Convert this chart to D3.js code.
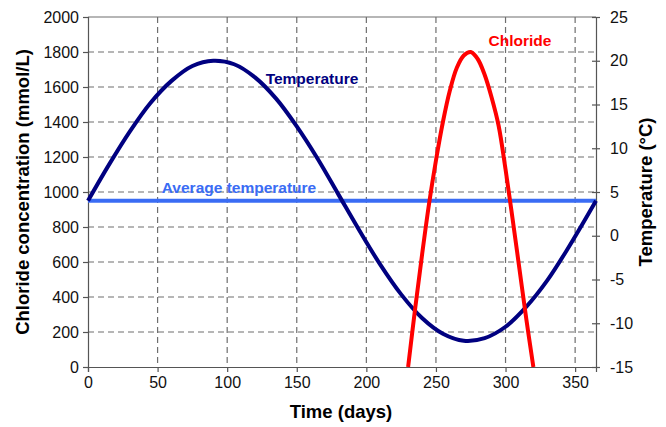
<!DOCTYPE html>
<html>
<head>
<meta charset="utf-8">
<script src="https://cdn.jsdelivr.net/npm/d3@7"></script>
<style>
  body { margin: 0; background: #fff; }
  svg { display: block; font-family: "Liberation Sans", Arial, sans-serif; }
</style>
</head>
<body>
<svg id="chart" width="666" height="427"></svg>
<script>
// data
const tempDays = [0, 15, 30, 45, 60, 75, 90, 105, 120, 135, 150, 165, 180, 195, 210, 225, 240, 255, 270, 285, 300, 315, 330, 345, 365];
const tempValues = [4, 8.1, 11.9, 15.2, 17.7, 19.4, 20, 19.6, 18.1, 15.7, 12.5, 8.8, 4.7, 0.6, -3.3, -6.7, -9.4, -11.2, -12, -11.7, -10.4, -8.1, -5.1, -1.4, 4];
const chlorideDays = [230, 235, 240, 245, 250, 255, 260, 265, 270, 275, 280, 285, 290, 295, 300, 305, 310, 315, 320];
const chlorideValues = [0, 330, 640, 930, 1180, 1400, 1580, 1710, 1780, 1800, 1760, 1670, 1540, 1380, 1130, 850, 560, 270, 0];
const averageTemp = 4;
const xTicks = [0, 50, 100, 150, 200, 250, 300, 350];
const leftTicks = [0, 200, 400, 600, 800, 1000, 1200, 1400, 1600, 1800, 2000];
const rightTicks = [-15, -10, -5, 0, 5, 10, 15, 20, 25];

const svg = d3.select('#chart');
const plotLeft = 88, plotRight = 596, plotTop = 17, plotBottom = 367;

const x = d3.scaleLinear().domain([0, 365]).range([plotLeft, plotRight]);
const yL = d3.scaleLinear().domain([0, 2000]).range([plotBottom, plotTop]);
const yR = d3.scaleLinear().domain([-15, 25]).range([plotBottom, plotTop]);

const plain = d => String(d);  // no thousands separators, plain hyphen minus

// grid
const grid = svg.append('g').attr('stroke', '#6e6e6e').attr('stroke-width', 1.2).attr('stroke-dasharray', '6,4');
grid.selectAll('.h').data(leftTicks.slice(1, -1)).enter().append('line')
  .attr('x1', plotLeft).attr('x2', plotRight)
  .attr('y1', d => yL(d)).attr('y2', d => yL(d));
grid.selectAll('.v').data(xTicks.slice(1)).enter().append('line')
  .attr('y1', plotTop).attr('y2', plotBottom)
  .attr('x1', d => x(d)).attr('x2', d => x(d));

// top border
svg.append('line').attr('x1', plotLeft).attr('x2', plotRight).attr('y1', plotTop).attr('y2', plotTop)
  .attr('stroke', '#6e6e6e').attr('stroke-width', 1.2);

// axes
const styleAxis = g => {
  g.selectAll('.domain').attr('stroke', '#555').attr('stroke-width', 1.2);
  g.selectAll('.tick line').attr('stroke', '#555').attr('stroke-width', 1.2);
  g.selectAll('.tick text').attr('fill', '#111').style('font-size', '16px');
};

svg.append('g').attr('transform', `translate(0,${plotBottom})`)
  .call(d3.axisBottom(x).tickValues(xTicks).tickFormat(plain).tickSizeOuter(0).tickSize(5).tickPadding(5))
  .call(styleAxis);

svg.append('g').attr('transform', `translate(${plotLeft},0)`)
  .call(d3.axisLeft(yL).tickValues(leftTicks).tickFormat(plain).tickSizeOuter(0).tickSize(5).tickPadding(4))
  .call(styleAxis);

const rAxis = svg.append('g').attr('transform', `translate(${plotRight},0)`)
  .call(d3.axisRight(yR).tickValues(rightTicks).tickFormat(plain).tickSizeOuter(0).tickSize(4).tickPadding(10))
  .call(styleAxis);
rAxis.selectAll('.tick line').attr('x1', -4);

// lines
const tempLine = d3.line()
  .x((d, i) => x(tempDays[i]))
  .y(d => yR(d))
  .curve(d3.curveCatmullRom);

const chlorideLine = d3.line()
  .x((d, i) => x(chlorideDays[i]))
  .y(d => yL(d))
  .curve(d3.curveCatmullRom);

svg.append('line')
  .attr('x1', x(0)).attr('x2', x(365))
  .attr('y1', yR(averageTemp)).attr('y2', yR(averageTemp))
  .attr('stroke', '#3a6cf4').attr('stroke-width', 4);

svg.append('path').datum(tempValues)
  .attr('d', tempLine)
  .attr('fill', 'none').attr('stroke', '#000080').attr('stroke-width', 4);

svg.append('path').datum(chlorideValues)
  .attr('d', chlorideLine)
  .attr('fill', 'none').attr('stroke', '#ff0000').attr('stroke-width', 4);

// series labels
svg.append('text').attr('x', 312).attr('y', 84).attr('text-anchor', 'middle')
  .style('font-size', '15.5px').style('font-weight', 'bold').attr('fill', '#000080')
  .text('Temperature');
svg.append('text').attr('x', 520).attr('y', 46).attr('text-anchor', 'middle')
  .style('font-size', '15.5px').style('font-weight', 'bold').attr('fill', '#ff0000')
  .text('Chloride');
svg.append('text').attr('x', 239).attr('y', 193).attr('text-anchor', 'middle')
  .style('font-size', '15.5px').style('font-weight', 'bold').attr('fill', '#3a6cf4')
  .text('Average temperature');

// axis titles
svg.append('text').attr('x', 341).attr('y', 418).attr('text-anchor', 'middle')
  .style('font-size', '18.5px').style('font-weight', 'bold').text('Time (days)');
svg.append('text').attr('transform', `translate(29,${(plotTop + plotBottom) / 2}) rotate(-90)`)
  .attr('text-anchor', 'middle')
  .style('font-size', '18.5px').style('font-weight', 'bold').text('Chloride concentration (mmol/L)');
svg.append('text').attr('transform', `translate(652,${(plotTop + plotBottom) / 2}) rotate(-90)`)
  .attr('text-anchor', 'middle')
  .style('font-size', '18.5px').style('font-weight', 'bold').text('Temperature (°C)');
</script>
</body>
</html>
